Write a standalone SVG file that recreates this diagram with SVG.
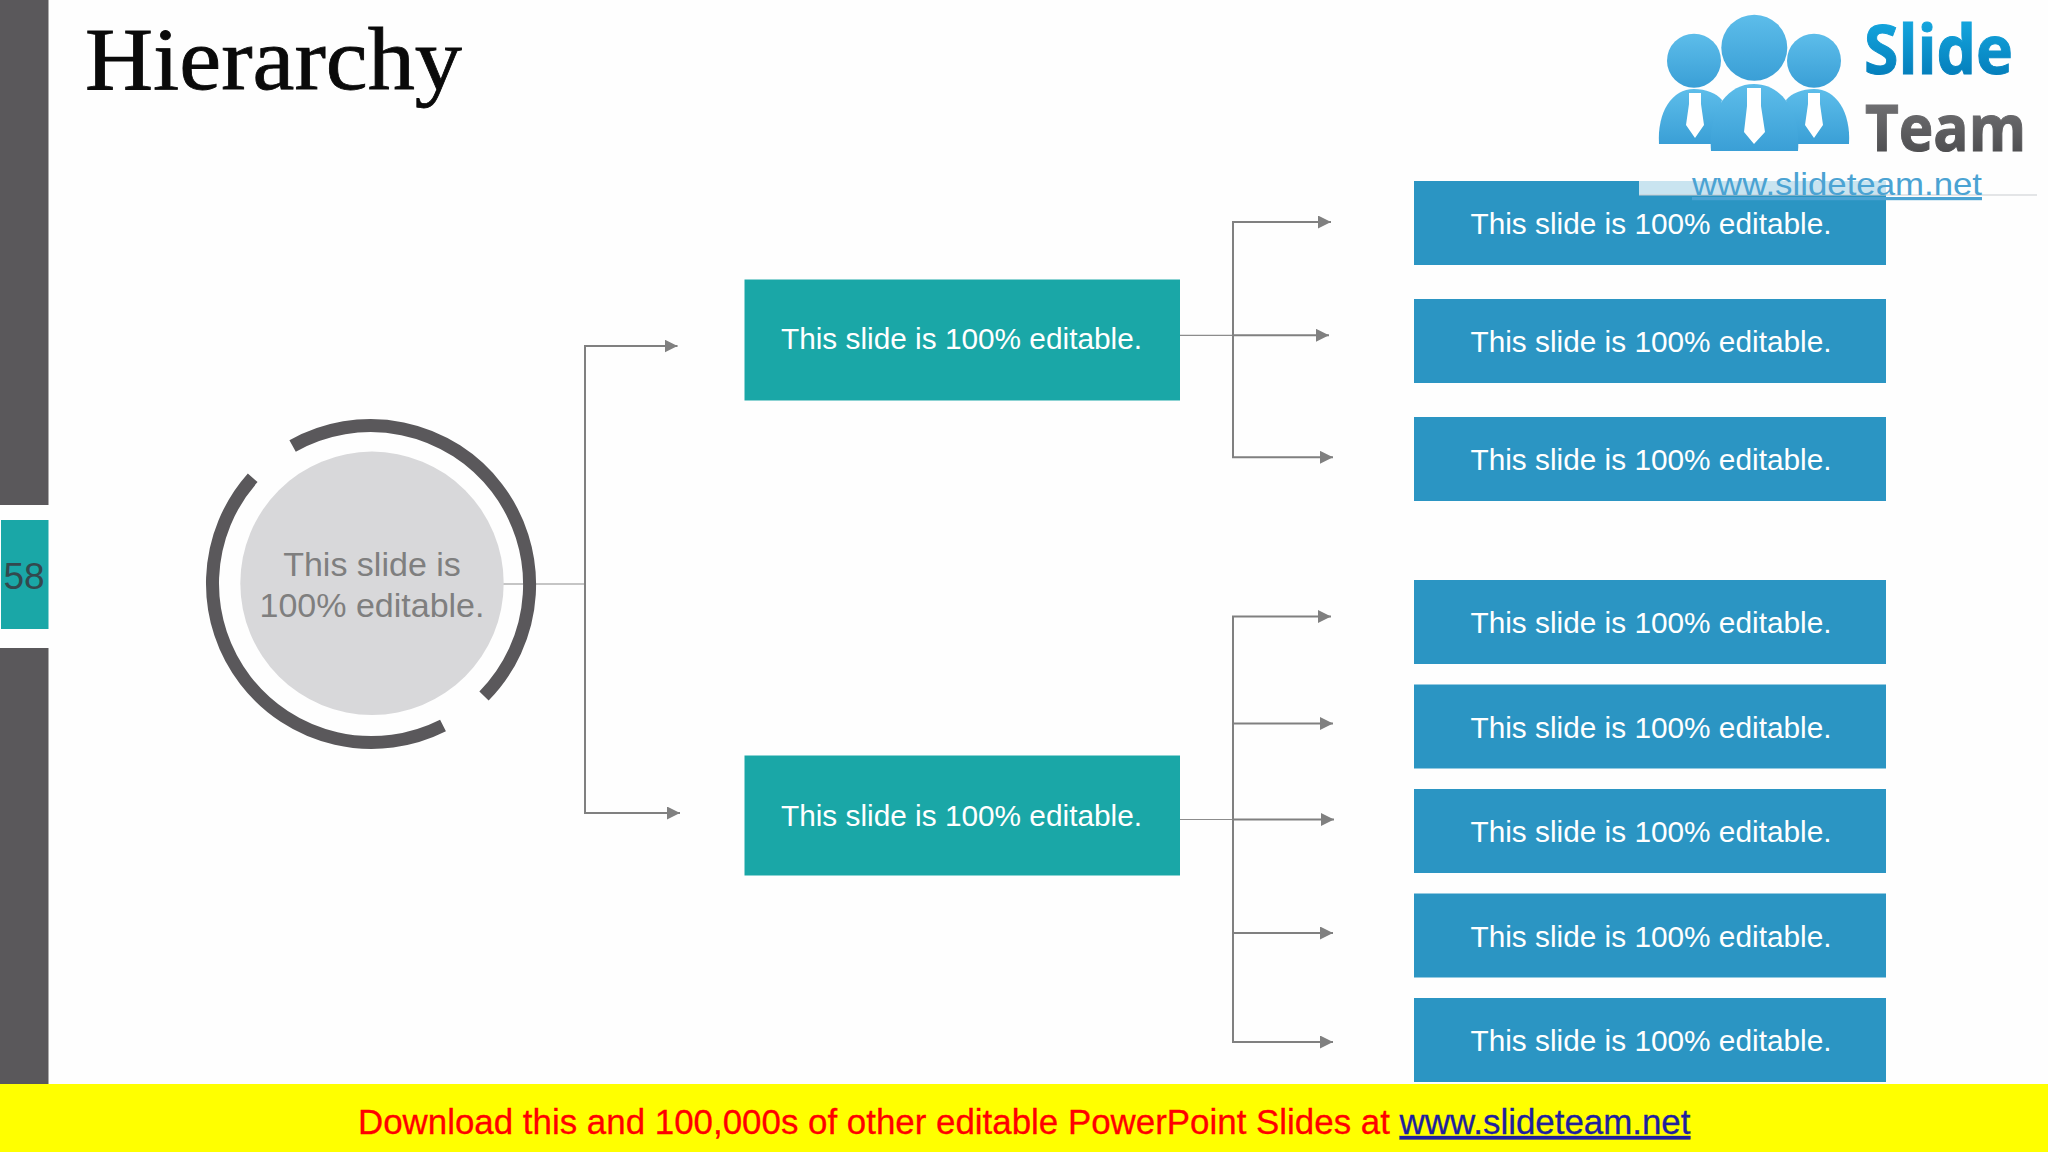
<svg xmlns="http://www.w3.org/2000/svg" width="2048" height="1152" viewBox="0 0 2048 1152">
<style>
.s{font-family:"Liberation Sans",Arial,sans-serif}
.b{font-size:29.800px;fill:#fff;text-anchor:middle}
.c{fill:none;stroke:#808080;stroke-width:2}
.t{fill:none;stroke:#8c8c8c;stroke-width:1.200}
.teal{fill:#1aa7a7}
.blue{fill:#2b95c3}
.bar{fill:#5a585b}
</style>
<defs>
<marker id="a" markerUnits="userSpaceOnUse" markerWidth="13" markerHeight="13" refX="13" refY="6.500" orient="auto"><path d="M0 0L13 6.500L0 13Z" fill="#808080"/></marker>
<linearGradient id="sl" x1="0" y1="0" x2="0" y2="1"><stop offset="0" stop-color="#19b3ea"/><stop offset="1" stop-color="#0072b0"/></linearGradient>
<linearGradient id="tm" x1="0" y1="0" x2="0" y2="1"><stop offset="0" stop-color="#7d7d80"/><stop offset="1" stop-color="#434345"/></linearGradient>
<linearGradient id="hd" x1="0" y1="0" x2="0" y2="1"><stop offset="0" stop-color="#5dbdea"/><stop offset="1" stop-color="#3a9fd6"/></linearGradient>
</defs>
<rect width="2048" height="1152" fill="#fefefe"/>
<g id="sidebar">
<rect class="bar" x="0" y="0" width="48.500" height="505"/>
<rect class="teal" x="1" y="520" width="47.500" height="109"/>
<rect class="bar" x="0" y="648" width="48.500" height="436"/>
<text class="s" x="24" y="589" font-size="37" fill="#33494e" text-anchor="middle">58</text>
</g>
<text id="title" x="85" y="89" font-family="'Liberation Serif',serif" font-size="88" fill="#0a0a0a" stroke="#0a0a0a" stroke-width=".8" textLength="377" lengthAdjust="spacingAndGlyphs">Hierarchy</text>
<g id="connectors">
<path class="t" d="M503 584H585"/>
<path class="c" d="M585 584V346H677.500" marker-end="url(#a)"/>
<path class="c" d="M585 584V813H680" marker-end="url(#a)"/>
<path class="t" d="M1180 335.300H1233"/>
<path class="c" d="M1233 335.300V222H1331" marker-end="url(#a)"/>
<path class="c" d="M1233 335.300H1329" marker-end="url(#a)"/>
<path class="c" d="M1233 335.300V457.300H1333" marker-end="url(#a)"/>
<path class="t" d="M1180 819.500H1233"/>
<path class="c" d="M1233 819.500V616.500H1331" marker-end="url(#a)"/>
<path class="c" d="M1233 723.500H1333" marker-end="url(#a)"/>
<path class="c" d="M1233 819.500H1334" marker-end="url(#a)"/>
<path class="c" d="M1233 819.500V1042H1333" marker-end="url(#a)"/>
<path class="c" d="M1233 933H1333" marker-end="url(#a)"/>
</g>
<g id="root">
<circle cx="372" cy="583.300" r="131.700" fill="#d8d8da"/>
<path d="M292.600 446A159 159 0 0 1 484 696M443 725.500A159 159 0 0 1 252.700 477.800" fill="none" stroke="#5a585b" stroke-width="13"/>
<text class="s" font-size="34" fill="#7f7f7f" text-anchor="middle"><tspan x="372" y="576">This slide is</tspan><tspan x="372" y="617">100% editable.</tspan></text>
</g>
<g id="mid1"><rect class="teal" x="744.500" y="279.500" width="435.500" height="121"/><text class="s b" x="961.500" y="349">This slide is 100% editable.</text></g>
<g id="mid2"><rect class="teal" x="744.500" y="755.500" width="435.500" height="120"/><text class="s b" x="961.500" y="826">This slide is 100% editable.</text></g>
<g id="leaf1"><rect class="blue" x="1414" y="181" width="472" height="84"/><text class="s b" x="1651" y="234">This slide is 100% editable.</text></g>
<g id="leaf2"><rect class="blue" x="1414" y="299" width="472" height="84"/><text class="s b" x="1651" y="352">This slide is 100% editable.</text></g>
<g id="leaf3"><rect class="blue" x="1414" y="417" width="472" height="84"/><text class="s b" x="1651" y="470">This slide is 100% editable.</text></g>
<g id="leaf4"><rect class="blue" x="1414" y="580" width="472" height="84"/><text class="s b" x="1651" y="633">This slide is 100% editable.</text></g>
<g id="leaf5"><rect class="blue" x="1414" y="684.500" width="472" height="84"/><text class="s b" x="1651" y="738">This slide is 100% editable.</text></g>
<g id="leaf6"><rect class="blue" x="1414" y="789" width="472" height="84"/><text class="s b" x="1651" y="842">This slide is 100% editable.</text></g>
<g id="leaf7"><rect class="blue" x="1414" y="893.500" width="472" height="84"/><text class="s b" x="1651" y="947">This slide is 100% editable.</text></g>
<g id="leaf8"><rect class="blue" x="1414" y="998" width="472" height="84"/><text class="s b" x="1651" y="1051">This slide is 100% editable.</text></g>
<g id="logo">
<rect x="1639" y="181" width="247" height="14" fill="#fff" fill-opacity=".75"/>
<path d="M1639 195H2037" stroke="#c9ccd0" stroke-width="1"/>
<g fill="url(#hd)">
<circle cx="1694" cy="60.700" r="27"/>
<circle cx="1814" cy="60.700" r="27"/>
<path d="M1659 144C1657 112 1672 89 1694 89C1706 89 1716 93 1722 100L1712 144Z"/>
<path d="M1849 144C1851 112 1836 89 1814 89C1802 89 1792 93 1786 100L1796 144Z"/>
<circle cx="1754.300" cy="47.700" r="33"/>
<path d="M1711 151C1708 112 1726 84 1754 84C1782 84 1801 112 1798 151Z"/>
</g>
<g fill="#fff">
<path d="M1689 93H1701V104L1704 125L1695 138L1686 125L1689 104Z"/>
<path d="M1808 93H1820V104L1823 125L1814 138L1805 125L1808 104Z"/>
<path d="M1747 88H1761V106L1765 132L1754 144L1744 132L1747 106Z"/>
</g>
<text x="1864" y="74" font-family="'Open Sans',sans-serif" font-weight="700" font-size="68" fill="url(#sl)" stroke="url(#sl)" stroke-width="1" textLength="149" lengthAdjust="spacingAndGlyphs">Slide</text>
<text x="1865" y="151" font-family="'Open Sans',sans-serif" font-weight="700" font-size="64" fill="url(#tm)" stroke="url(#tm)" stroke-width="1" textLength="161" lengthAdjust="spacingAndGlyphs">Team</text>
<text class="s" x="1692" y="195" font-size="32" fill="#4ba3d3" text-decoration="underline" textLength="290" lengthAdjust="spacingAndGlyphs">www.slideteam.net</text>
</g>
<g id="footer">
<rect x="0" y="1084" width="2048" height="68" fill="#ffff00"/>
<text class="s" x="358" y="1134" font-size="34.900" fill="#ff0000" stroke="#ff0000" stroke-width=".3">Download this and 100,000s of other editable PowerPoint Slides at <tspan fill="#1f1f9e" stroke="#1f1f9e" text-decoration="underline">www.slideteam.net</tspan></text>
</g>
</svg>
